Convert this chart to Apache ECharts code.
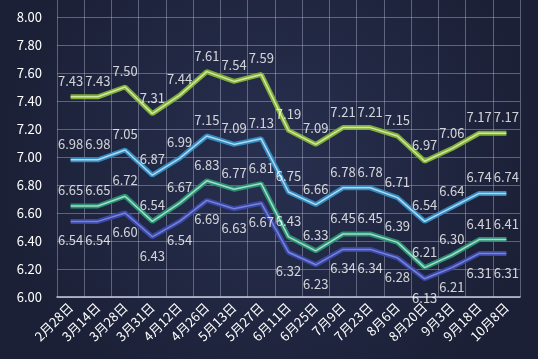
<!DOCTYPE html>
<html><head><meta charset="utf-8">
<script src="https://cdn.jsdelivr.net/npm/echarts@6/dist/echarts.min.js"></script>
<style>html,body{margin:0;padding:0;background:#222842}#c{width:538px;height:359px}</style>
</head><body><div id="c"></div>
<script>
var categories = ['2月28日','3月14日','3月28日','3月31日','4月12日','4月26日','5月13日','5月27日','6月11日','6月25日','7月9日','7月23日','8月6日','8月20日','9月3日','9月18日','10月8日'];
var s1 = [7.43,7.43,7.50,7.31,7.44,7.61,7.54,7.59,7.19,7.09,7.21,7.21,7.15,6.97,7.06,7.17,7.17];
var s2 = [6.98,6.98,7.05,6.87,6.99,7.15,7.09,7.13,6.75,6.66,6.78,6.78,6.71,6.54,6.64,6.74,6.74];
var s3 = [6.65,6.65,6.72,6.54,6.67,6.83,6.77,6.81,6.43,6.33,6.45,6.45,6.39,6.21,6.30,6.41,6.41];
var s4 = [6.54,6.54,6.60,6.43,6.54,6.69,6.63,6.67,6.32,6.23,6.34,6.34,6.28,6.13,6.21,6.31,6.31];
var yMin = 6.0, yMax = 8.2, yStep = 0.2, yTopLabel = 8.0;

var FONT = '"Noto Sans CJK SC", "Open Sans", sans-serif';
var styles = [
  {data:s1, outer:'#80ad38', inner:'#cfe7a0', pos:'top'},
  {data:s2, outer:'#3589bd', inner:'#acdaf2', pos:'top'},
  {data:s3, outer:'#2a8f74', inner:'#a2dcc6', pos:'top'},
  {data:s4, outer:'#3b47a6', inner:'#7684d6', pos:'bottom'}
];
var series = [];
styles.forEach(function(st){
  series.push({type:'line', data:st.data, symbol:'none', z:2,
    lineStyle:{color:st.outer, width:5}});
  series.push({type:'line', data:st.data, symbol:'none', z:3, silent:true,
    lineStyle:{color:st.inner, width:1.5}});
  series.push({type:'scatter', data:st.data, symbol:'circle', symbolSize:1, z:5,
    itemStyle:{color:'rgba(0,0,0,0)'},
    label:{show:true, position:st.pos, distance:st.pos === 'top' ? 9 : 12, color:'#ffffff', fontSize:13, fontFamily:FONT,
      formatter:function(p){return Number(p.value).toFixed(2);}},
    labelLayout:{hideOverlap:false}});
});

var chart = echarts.init(document.getElementById('c'));
chart.setOption({
  animation:false,
  backgroundColor:{type:'radial', x:0.5, y:0.45, r:0.75,
    colorStops:[{offset:0,color:'#283050'},{offset:1,color:'#1b2036'}]},
  grid:{left:57, right:18, top:-11, bottom:62, outerBoundsMode:'none', containLabel:false},
  xAxis:{type:'category', data:categories, boundaryGap:true,
    axisLine:{show:true, lineStyle:{color:'#c8cbe0', width:1.5}},
    axisTick:{show:false},
    splitLine:{show:true, interval:0, lineStyle:{color:'rgba(190,195,220,0.4)', width:1}},
    axisLabel:{interval:0, rotate:45, color:'#ffffff', fontSize:13, fontFamily:FONT, margin:8}},
  yAxis:{type:'value', min:yMin, max:yMax, interval:yStep,
    axisLine:{show:false}, axisTick:{show:false},
    splitLine:{show:true, lineStyle:{color:'rgba(190,195,220,0.4)', width:1}},
    axisLabel:{color:'#ffffff', fontSize:13, fontFamily:FONT, margin:15,
      formatter:function(v){return v > yTopLabel + 0.001 ? '' : v.toFixed(2);}}},
  series:series
});
</script></body></html>
